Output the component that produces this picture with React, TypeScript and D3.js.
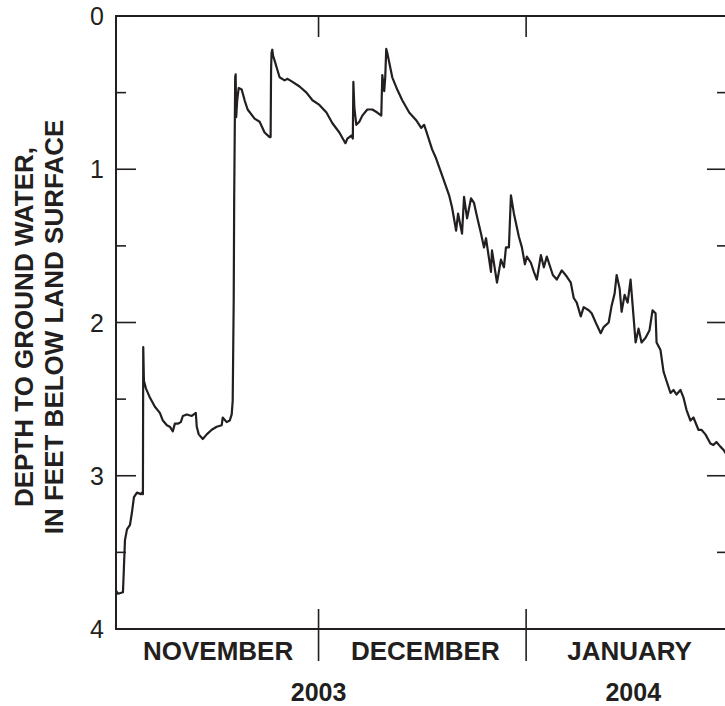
import React from "react";
import { scaleLinear, scaleTime, line, range } from "d3";

// days since 2003-11-01 00:00, and depth to water in feet below land surface
const DAYS = [
  0.0, 0.3, 1.04, 1.19, 1.34, 1.64, 2.09, 2.38, 2.68, 3.13, 3.72, 3.87, 4.02,
  4.07, 4.17, 4.47, 5.06, 5.81, 6.55, 7.0, 7.6, 8.04, 8.49, 8.79, 9.23, 9.68,
  9.98, 10.57, 11.32, 11.92, 12.06, 12.36, 12.96, 13.55, 14.3, 15.04, 15.79,
  15.94, 16.53, 16.98, 17.28, 17.43, 17.58, 17.65, 17.8, 17.87, 17.95, 18.1,
  18.32, 18.77, 19.21, 19.66, 20.7, 21.45, 22.19, 22.94, 23.09, 23.16, 23.23,
  23.34, 23.46, 23.68, 24.43, 25.17, 25.62, 26.36, 27.41, 28.45, 29.34, 30.38,
  31.43, 32.32, 33.36, 34.26, 34.55, 35.15, 35.37, 35.45, 35.6, 35.89, 36.34,
  36.79, 37.53, 38.28, 39.02, 39.62, 39.77, 40.06, 40.21, 40.36, 40.51, 41.26,
  42.0, 42.75, 43.79, 44.83, 45.58, 46.02, 46.32, 47.21, 47.81, 48.7, 49.75,
  50.19, 50.79, 51.09, 51.68, 51.98, 52.43, 53.02, 53.47, 53.92, 54.51, 54.96,
  55.26, 56.0, 56.15, 56.9, 57.49, 57.94, 58.24, 58.68, 58.98, 59.43, 60.17,
  60.62, 61.07, 61.36, 61.96, 62.41, 62.85, 63.45, 63.9, 64.34, 65.24, 65.83,
  66.58, 67.32, 67.92, 68.36, 68.81, 69.41, 69.85, 70.6, 71.04, 71.64, 72.39,
  72.83, 73.58, 74.02, 74.47, 74.77, 75.22, 75.51, 75.96, 76.41, 76.85, 77.6,
  78.04, 78.49, 79.09, 79.68, 80.13, 80.58, 80.73, 81.32, 81.77, 82.21, 82.81,
  83.26, 83.7, 84.3, 84.75, 85.2, 85.79, 86.24, 86.98, 87.43, 88.03, 88.77,
  89.22, 89.67, 90.26, 90.71, 91.16,
];
const DEPTH = [
  3.75, 3.77, 3.76, 3.59, 3.42, 3.35, 3.32, 3.24, 3.14, 3.11, 3.12, 3.11, 3.12,
  2.16, 2.38, 2.43, 2.49, 2.55, 2.59, 2.64, 2.67, 2.68, 2.71, 2.66, 2.66, 2.65,
  2.61, 2.6, 2.61, 2.59, 2.68, 2.73, 2.76, 2.73, 2.7, 2.68, 2.67, 2.62, 2.65,
  2.64, 2.6, 2.51, 1.85, 1.2, 0.4, 0.38, 0.66, 0.55, 0.47, 0.48, 0.55, 0.61,
  0.67, 0.69, 0.76, 0.79, 0.79, 0.35, 0.24, 0.22, 0.26, 0.29, 0.4, 0.42, 0.41,
  0.43, 0.46, 0.5, 0.55, 0.58, 0.63, 0.7, 0.76, 0.83, 0.8, 0.78, 0.8, 0.43, 0.6,
  0.71, 0.69, 0.65, 0.61, 0.61, 0.63, 0.65, 0.385, 0.49, 0.4, 0.215, 0.24, 0.4,
  0.48, 0.55, 0.63, 0.68, 0.73, 0.71, 0.75, 0.87, 0.93, 1.04, 1.17, 1.25, 1.4,
  1.29, 1.42, 1.18, 1.32, 1.19, 1.22, 1.31, 1.42, 1.51, 1.45, 1.67, 1.53, 1.74,
  1.59, 1.64, 1.51, 1.51, 1.17, 1.29, 1.44, 1.51, 1.62, 1.57, 1.61, 1.67, 1.72,
  1.56, 1.64, 1.57, 1.69, 1.72, 1.66, 1.7, 1.74, 1.84, 1.87, 1.96, 1.9, 1.92,
  1.94, 2.0, 2.07, 2.03, 2.0, 1.89, 1.81, 1.69, 1.78, 1.93, 1.82, 1.87, 1.72,
  2.13, 2.04, 2.13, 2.1, 2.05, 1.92, 1.94, 2.13, 2.18, 2.32, 2.38, 2.46, 2.44,
  2.47, 2.44, 2.49, 2.57, 2.64, 2.62, 2.7, 2.7, 2.73, 2.79, 2.8, 2.78, 2.81,
  2.83, 2.86,
];

const MONTHS = ["NOVEMBER", "DECEMBER", "JANUARY"];
const MONTH_STARTS = ["2003-11-01", "2003-12-01", "2004-01-01", "2004-01-31"];
const YEARS = [
  { label: "2003", at: "2003-12-01" },
  { label: "2004", at: "2004-01-17" },
];
const Y_TICKS = [0, 1, 2, 3, 4];

const parse = (s: string) => new Date(s + "T00:00:00");
const DAY_MS = 864e5;

export default function App() {
  const width = 725,
    height = 706,
    left = 116,
    right = 727,
    top = 16,
    bottom = 629;
  const ink = "#231f20";
  const font = "'Liberation Sans', Arial, Helvetica, sans-serif";

  const start = parse(MONTH_STARTS[0]);
  // the record begins a few hours before 1 November
  const x = scaleTime()
    .domain([new Date(start.getTime() - 0.25 * DAY_MS), parse(MONTH_STARTS[3])])
    .range([left, right]);
  const y = scaleLinear().domain([0, 4]).range([top, bottom]);

  const points = DAYS.map(
    (d, i) => [new Date(start.getTime() + (d - 0.25) * DAY_MS), DEPTH[i]] as [Date, number]
  );
  const path = line<[Date, number]>()
    .x(d => x(d[0]))
    .y(d => y(d[1]))(points);

  const halfTicks = range(0, 4.01, 0.5);
  const boundaries = MONTH_STARTS.slice(1, 3).map(parse);

  return (
    <svg
      width={width}
      height={height}
      style={{ position: "absolute", left: 0, top: 0, background: "#fff" }}
    >
      <defs>
        <clipPath id="plot">
          <rect x={left} y={top} width={right - left} height={bottom - top} />
        </clipPath>
      </defs>

      {/* frame */}
      <rect
        x={left}
        y={top}
        width={right - left}
        height={bottom - top}
        fill="none"
        stroke={ink}
        strokeWidth={2}
      />

      {/* y ticks, both sides, pointing in */}
      {halfTicks.map(t => {
        const len = t % 1 === 0 ? 20 : 10;
        return (
          <g key={t} stroke={ink} strokeWidth={1.6}>
            <line x1={left} x2={left + len} y1={y(t)} y2={y(t)} />
            <line x1={right} x2={right - len} y1={y(t)} y2={y(t)} />
          </g>
        );
      })}
      {Y_TICKS.map(t => (
        <text
          key={t}
          x={104}
          y={y(t)}
          dy="0.36em"
          textAnchor="end"
          fontFamily={font}
          fontSize={25}
          fill={ink}
        >
          {t}
        </text>
      ))}

      {/* month dividers */}
      {boundaries.map((b, i) => (
        <g key={i} stroke={ink} strokeWidth={1.6}>
          <line x1={x(b)} x2={x(b)} y1={top} y2={top + 21} />
          <line x1={x(b)} x2={x(b)} y1={bottom - 20} y2={bottom + 32} />
        </g>
      ))}

      {MONTHS.map((m, i) => {
        const a = x(parse(MONTH_STARTS[i]));
        const b = x(parse(MONTH_STARTS[i + 1]));
        return (
          <text
            key={m}
            x={(a + b) / 2 + (i === 0 ? 0 : 3)}
            y={660}
            textAnchor="middle"
            fontFamily={font}
            fontWeight="bold"
            fontSize={26}
            fill={ink}
          >
            {m}
          </text>
        );
      })}
      {YEARS.map(yr => (
        <text
          key={yr.label}
          x={x(parse(yr.at))}
          y={701}
          textAnchor="middle"
          fontFamily={font}
          fontWeight="bold"
          fontSize={25}
          fill={ink}
        >
          {yr.label}
        </text>
      ))}

      {/* axis title */}
      <g
        transform="translate(0,327) rotate(-90)"
        fontFamily={font}
        fontWeight="bold"
        fontSize={26}
        fill={ink}
        textAnchor="middle"
      >
        <text x={0} y={33}>
          DEPTH TO GROUND WATER,
        </text>
        <text x={0} y={63}>
          IN FEET BELOW LAND SURFACE
        </text>
      </g>

      <path
        d={path ?? ""}
        fill="none"
        stroke={ink}
        strokeWidth={2.2}
        strokeLinejoin="round"
        clipPath="url(#plot)"
      />
    </svg>
  );
}
